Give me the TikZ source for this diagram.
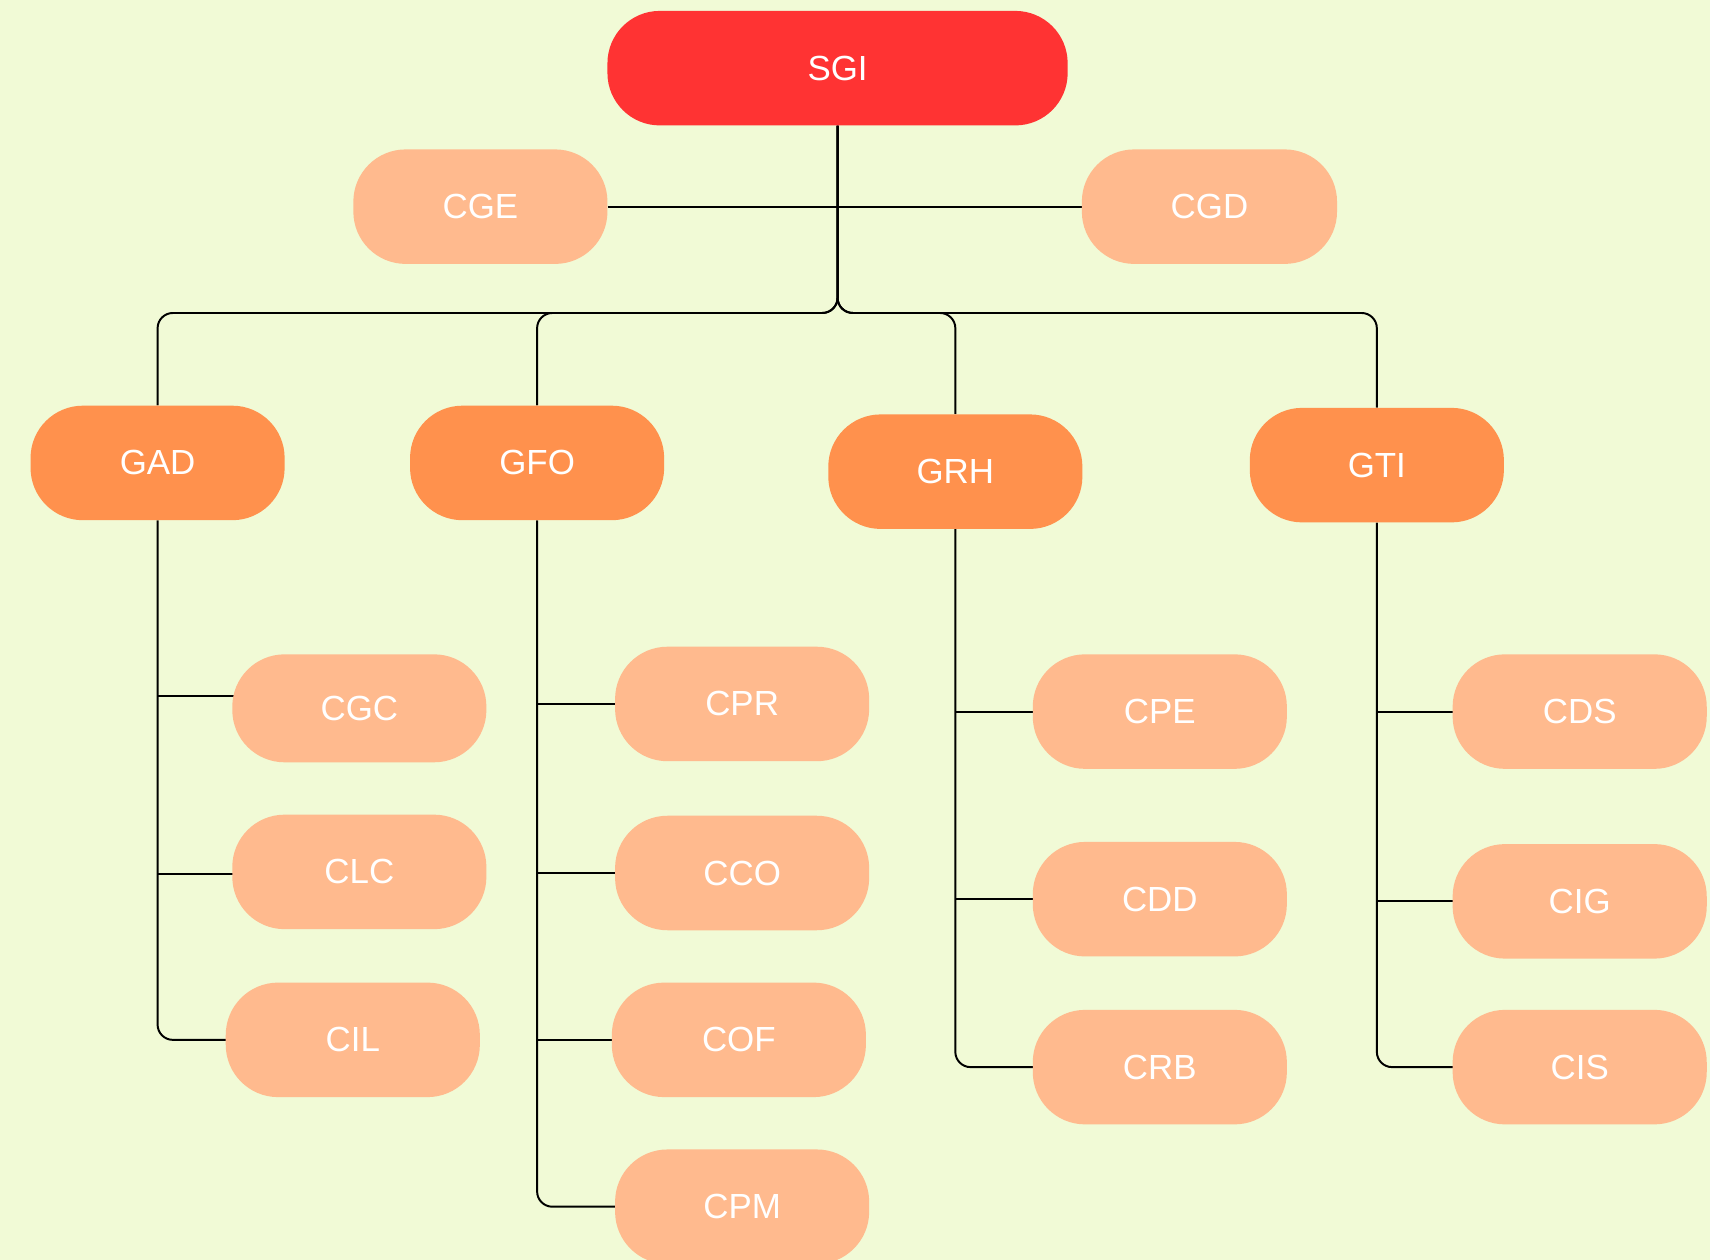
\documentclass[tikz,border=0pt]{standalone}
\usepackage{fontspec}
\setmainfont{Liberation Sans}
\usetikzlibrary{backgrounds}
\definecolor{bgc}{RGB}{241,250,214}
\definecolor{redc}{RGB}{255,51,51}
\definecolor{orc}{RGB}{255,145,77}
\definecolor{pcc}{RGB}{255,186,142}
\tikzset{
  box/.style={rectangle, rounded corners=48pt, inner sep=0pt, text=white,
    font=\fontsize{32}{38}\selectfont, minimum width=233pt, minimum height=105pt},
  topbox/.style={box, fill=redc, minimum width=422pt},
  gbox/.style={box, fill=orc},
  cbox/.style={box, fill=pcc},
  link/.style={draw=black, line width=1.8pt, rounded corners=14pt},
}
\begin{document}
\begin{tikzpicture}[x=1pt,y=-1pt]
\begin{pgfonlayer}{background}
\fill[bgc] (0,0) rectangle (1568,1155);
\end{pgfonlayer}
\clip (0,0) rectangle (1568,1155);
\useasboundingbox (0,0) rectangle (1568,1155);
% nodes
\node[topbox] (SGI) at (768,62.5) {SGI};
\node[cbox] (CGE) at (440.5,189.5) {CGE};
\node[cbox, minimum width=234pt] (CGD) at (1109,189.5) {CGD};
\node[gbox] (GAD) at (144.5,424.5) {GAD};
\node[gbox] (GFO) at (492.5,424.5) {GFO};
\node[gbox] (GRH) at (876,432.5) {GRH};
\node[gbox] (GTI) at (1262.5,426.5) {GTI};
\node[cbox, minimum height=99pt] (CGC) at (329.5,649.5) {CGC};
\node[cbox] (CLC) at (329.5,799.5) {CLC};
\node[cbox] (CIL) at (323.5,953.5) {CIL};
\node[cbox] (CPR) at (680.5,645.5) {CPR};
\node[cbox] (CCO) at (680.5,800.5) {CCO};
\node[cbox] (COF) at (677.5,953.5) {COF};
\node[cbox] (CPM) at (680.5,1106.5) {CPM};
\node[cbox] (CPE) at (1063.5,652.5) {CPE};
\node[cbox] (CDD) at (1063.5,824.5) {CDD};
\node[cbox] (CRB) at (1063.5,978.5) {CRB};
\node[cbox] (CDS) at (1448.5,652.5) {CDS};
\node[cbox] (CIG) at (1448.5,826.5) {CIG};
\node[cbox] (CIS) at (1448.5,978.5) {CIS};
% connectors
\begin{pgfonlayer}{background}
\draw[link] (CGE.east) -- (CGD.west);
\draw[link] (SGI.south) -- (SGI.south |- 0,287) -- (GAD.north |- 0,287) -- (GAD.north);
\draw[link] (SGI.south) -- (SGI.south |- 0,287) -- (GFO.north |- 0,287) -- (GFO.north);
\draw[link] (SGI.south) -- (SGI.south |- 0,287) -- (GRH.north |- 0,287) -- (GRH.north);
\draw[link] (SGI.south) -- (SGI.south |- 0,287) -- (GTI.north |- 0,287) -- (GTI.north);
% GAD
\draw[link] (GAD.south) -- (GAD.south |- CIL.west) -- ([xshift=4pt]CIL.west);
\draw[link] (GAD.south |- 0,638) -- ([xshift=4pt]CGC.west |- 0,638);
\draw[link] (GAD.south |- 0,801) -- ([xshift=4pt]CLC.west |- 0,801);
% GFO
\draw[link] (GFO.south) -- (GFO.south |- CPM.west) -- ([xshift=4pt]CPM.west);
\draw[link] (GFO.south |- CPR.west) -- ([xshift=4pt]CPR.west);
\draw[link] (GFO.south |- CCO.west) -- ([xshift=4pt]CCO.west);
\draw[link] (GFO.south |- COF.west) -- ([xshift=4pt]COF.west);
% GRH
\draw[link] (GRH.south) -- (GRH.south |- CRB.west) -- ([xshift=4pt]CRB.west);
\draw[link] (GRH.south |- CPE.west) -- ([xshift=4pt]CPE.west);
\draw[link] (GRH.south |- CDD.west) -- ([xshift=4pt]CDD.west);
% GTI
\draw[link] (GTI.south) -- (GTI.south |- CIS.west) -- ([xshift=4pt]CIS.west);
\draw[link] (GTI.south |- CDS.west) -- ([xshift=4pt]CDS.west);
\draw[link] (GTI.south |- CIG.west) -- ([xshift=4pt]CIG.west);
\end{pgfonlayer}
\end{tikzpicture}
\end{document}
